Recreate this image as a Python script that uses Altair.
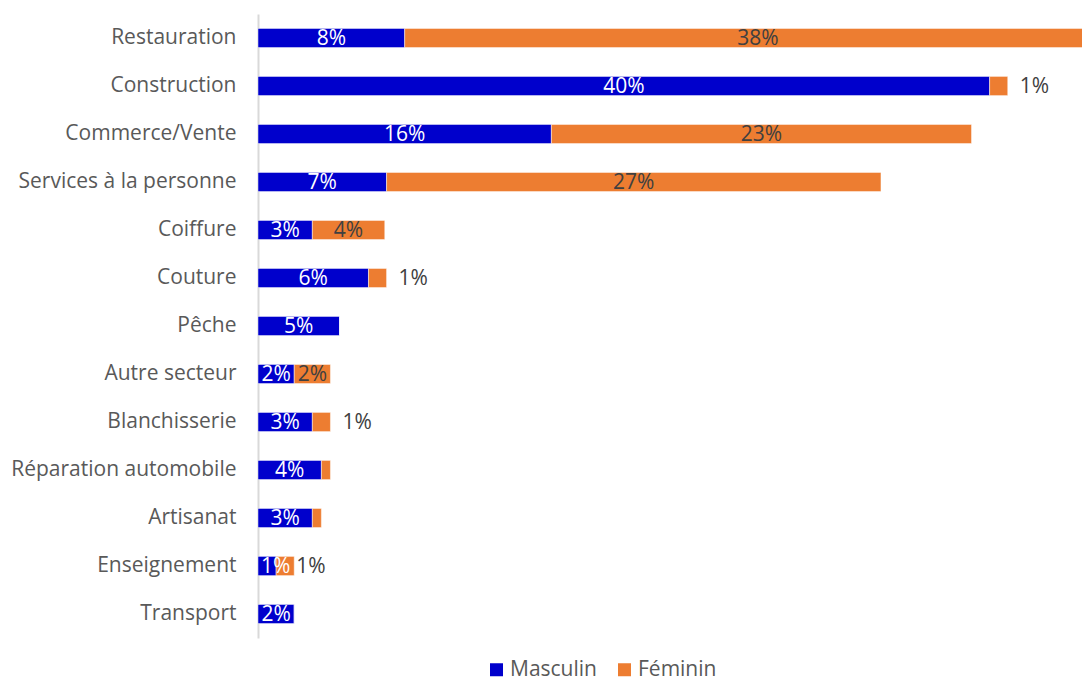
import altair as alt
import pandas as pd

categories = ["Restauration", "Construction", "Commerce/Vente", "Services à la personne",
              "Coiffure", "Couture", "Pêche", "Autre secteur", "Blanchisserie",
              "Réparation automobile", "Artisanat", "Enseignement", "Transport"]
masculin = [8.1, 40.4, 16.2, 7.1, 3.0, 6.1, 4.5, 2.0, 3.0, 3.5, 3.0, 1.0, 2.0]
feminin = [39.0, 1.0, 23.2, 27.3, 4.0, 1.0, 0.0, 2.0, 1.0, 0.5, 0.5, 1.0, 0.0]
masc_labels = ["8%", "40%", "16%", "7%", "3%", "6%", "5%", "2%", "3%", "4%", "3%", "1%", "2%"]
fem_labels = ["38%", "1%", "23%", "27%", "4%", "1%", "", "2%", "1%", "", "", "1%", ""]
# label placement kinds
masc_kind = ["in"] * 11 + ["left", "in"]
fem_kind = ["in", "out", "in", "in", "in", "out", "in", "in", "out", "in", "in", "near", "in"]

rows = []
for i, c in enumerate(categories):
    rows.append({"cat": c, "sexe": "Masculin", "ord": 0, "value": masculin[i],
                 "label": masc_labels[i], "kind": "m_" + masc_kind[i]})
    rows.append({"cat": c, "sexe": "Féminin", "ord": 1, "value": feminin[i],
                 "label": fem_labels[i], "kind": "f_" + fem_kind[i]})
df = pd.DataFrame(rows)

FONT = "Open Sans"
y_enc = alt.Y("cat:N", sort=categories, title=None,
              scale=alt.Scale(paddingInner=0.6, paddingOuter=0.3),
              axis=alt.Axis(labelFontSize=21, labelColor="#595959", labelFont=FONT,
                            labelPadding=22, labelLimit=400, ticks=False, domainColor="#d9d9d9",
                            domainWidth=2, minExtent=250, maxExtent=250))
x_scale = alt.Scale(domain=[0, 45.5], nice=False)
y_plain = alt.Y("cat:N", sort=categories)

base = alt.Chart(df).transform_stack(
    stack="value", as_=["x0", "x1"], groupby=["cat"], sort=[alt.SortField("ord")]
).transform_calculate(mid="(datum.x0 + datum.x1) / 2")

bars = base.mark_bar(clip=True, stroke="white", strokeWidth=0.8, strokeOpacity=0.6).encode(
    y=y_enc,
    x=alt.X("x0:Q", scale=x_scale, axis=None),
    x2="x1:Q",
    color=alt.Color("sexe:N", sort=["Masculin", "Féminin"],
                    scale=alt.Scale(domain=["Masculin", "Féminin"], range=["#0000CC", "#ED7D31"]),
                    legend=alt.Legend(title=None, orient="none", legendX=228, legendY=645,
                                      direction="horizontal", symbolType="square",
                                      symbolSize=169, symbolStrokeWidth=0,
                                      labelFontSize=21, labelColor="#595959", labelFont=FONT,
                                      labelOffset=3, columnPadding=17)),
)


def txt(kind, field, color, align, dx=0):
    return base.transform_filter(f"datum.kind == '{kind}'").mark_text(
        font=FONT, fontSize=21, color=color, align=align, baseline="middle", dx=dx, dy=1
    ).encode(y=y_plain, x=alt.X(f"{field}:Q", scale=x_scale), text="label:N")


layers = [
    bars,
    txt("m_in", "mid", "white", "center"),
    txt("m_left", "x0", "white", "left", 3),
    txt("f_in", "mid", "#404040", "center"),
    txt("f_out", "x1", "#404040", "left", 12),
    txt("f_near", "x1", "#404040", "left", 2),
]

chart = alt.layer(*layers).properties(
    width=824, height=624,
    padding={"left": 0, "top": 6, "right": 0, "bottom": 4},
).configure_view(stroke=None)

chart.save("out.html", embed_options={"renderer": "svg", "actions": False})
